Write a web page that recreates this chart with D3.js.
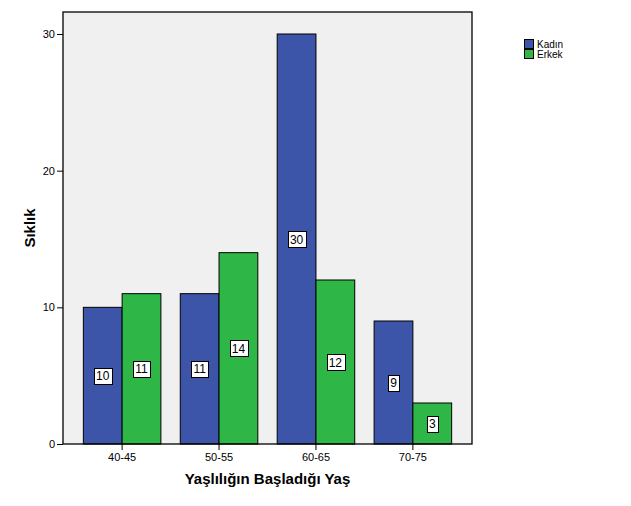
<!DOCTYPE html>
<html><head><meta charset="utf-8">
<script src="https://cdn.jsdelivr.net/npm/d3@7"></script>
<style>body{margin:0;background:#fff;} svg{display:block;font-family:Arial,"Liberation Sans",sans-serif;}</style>
</head><body>
<svg id="c" width="631" height="506"></svg>
<script>
const categories = ["40-45","50-55","60-65","70-75"];
const seriesNames = ["Kadın","Erkek"];
const kadin = [10,11,30,9];
const erkek = [11,14,12,3];
const yTicks = [0,10,20,30];
const colors = ["#3d55a8","#2eb646"];

const svg = d3.select("#c");
const L=63,R=472,T=12,B=444;
const x = d3.scaleBand().domain(categories).range([L,R]).paddingInner(0.2).paddingOuter(0.21);
const xs = d3.scaleBand().domain(seriesNames).range([0,x.bandwidth()]);
const y = d3.scaleLinear().domain([0,30]).range([B,34]);

svg.append("rect").attr("x",L).attr("y",T).attr("width",R-L).attr("height",B-T).attr("fill","#f0f0f0");

const data = [kadin, erkek];
categories.forEach((c,i)=>{
  seriesNames.forEach((s,j)=>{
    const v = data[j][i];
    const bx = x(c)+xs(s), bw = xs.bandwidth();
    svg.append("rect").attr("x",bx).attr("y",y(v)).attr("width",bw).attr("height",y(0)-y(v))
      .attr("fill",colors[j]).attr("stroke","#000").attr("stroke-width",1);
  });
});
categories.forEach((c,i)=>{
  seriesNames.forEach((s,j)=>{
    const v = data[j][i];
    const cx = x(c)+xs(s)+xs.bandwidth()/2, cy = (y(v)+y(0))/2;
    const t = svg.append("text").attr("x",cx).attr("y",cy+4.5).attr("text-anchor","middle")
      .attr("font-size",12).text(v);
    const bb = t.node().getBBox();
    svg.insert("rect", () => t.node()).attr("x",Math.round(bb.x-2)+0.5).attr("y",Math.round(cy-8)+0.5)
      .attr("width",Math.round(bb.width+4)).attr("height",16).attr("fill","#fff").attr("stroke","#000");
  });
});

svg.append("rect").attr("x",L).attr("y",T).attr("width",R-L).attr("height",B-T).attr("fill","none").attr("stroke","#000").attr("stroke-width",1.3);

const ya = svg.append("g").attr("transform",`translate(${L},0)`)
  .call(d3.axisLeft(y).tickValues(yTicks).tickSize(6).tickPadding(2));
ya.select(".domain").remove();
ya.selectAll("text").attr("font-size",11).attr("fill","#000").attr("font-family","Arial,'Liberation Sans',sans-serif");
ya.selectAll("line").attr("stroke","#000");

const xa = svg.append("g").attr("transform",`translate(0,${B})`)
  .call(d3.axisBottom(x).tickSize(6).tickPadding(3));
xa.select(".domain").remove();
xa.selectAll("text").attr("font-size",11).attr("fill","#000").attr("font-family","Arial,'Liberation Sans',sans-serif");
xa.selectAll("line").attr("stroke","#000");

svg.append("text").attr("x",(L+R)/2).attr("y",484).attr("text-anchor","middle")
  .attr("font-size",15).attr("font-weight","bold").text("Yaşlılığın Başladığı Yaş");
svg.append("text").attr("transform",`translate(35,${(T+B)/2}) rotate(-90)`).attr("text-anchor","middle")
  .attr("font-size",15).attr("font-weight","bold").text("Sıklık");

seriesNames.forEach((s,j)=>{
  svg.append("rect").attr("x",524.5).attr("y",39.5+j*10).attr("width",9).attr("height",9)
    .attr("fill",colors[j]).attr("stroke","#000");
  svg.append("text").attr("x",537).attr("y",47.5+j*10).attr("font-size",10).text(s);
});
</script>
</body></html>
